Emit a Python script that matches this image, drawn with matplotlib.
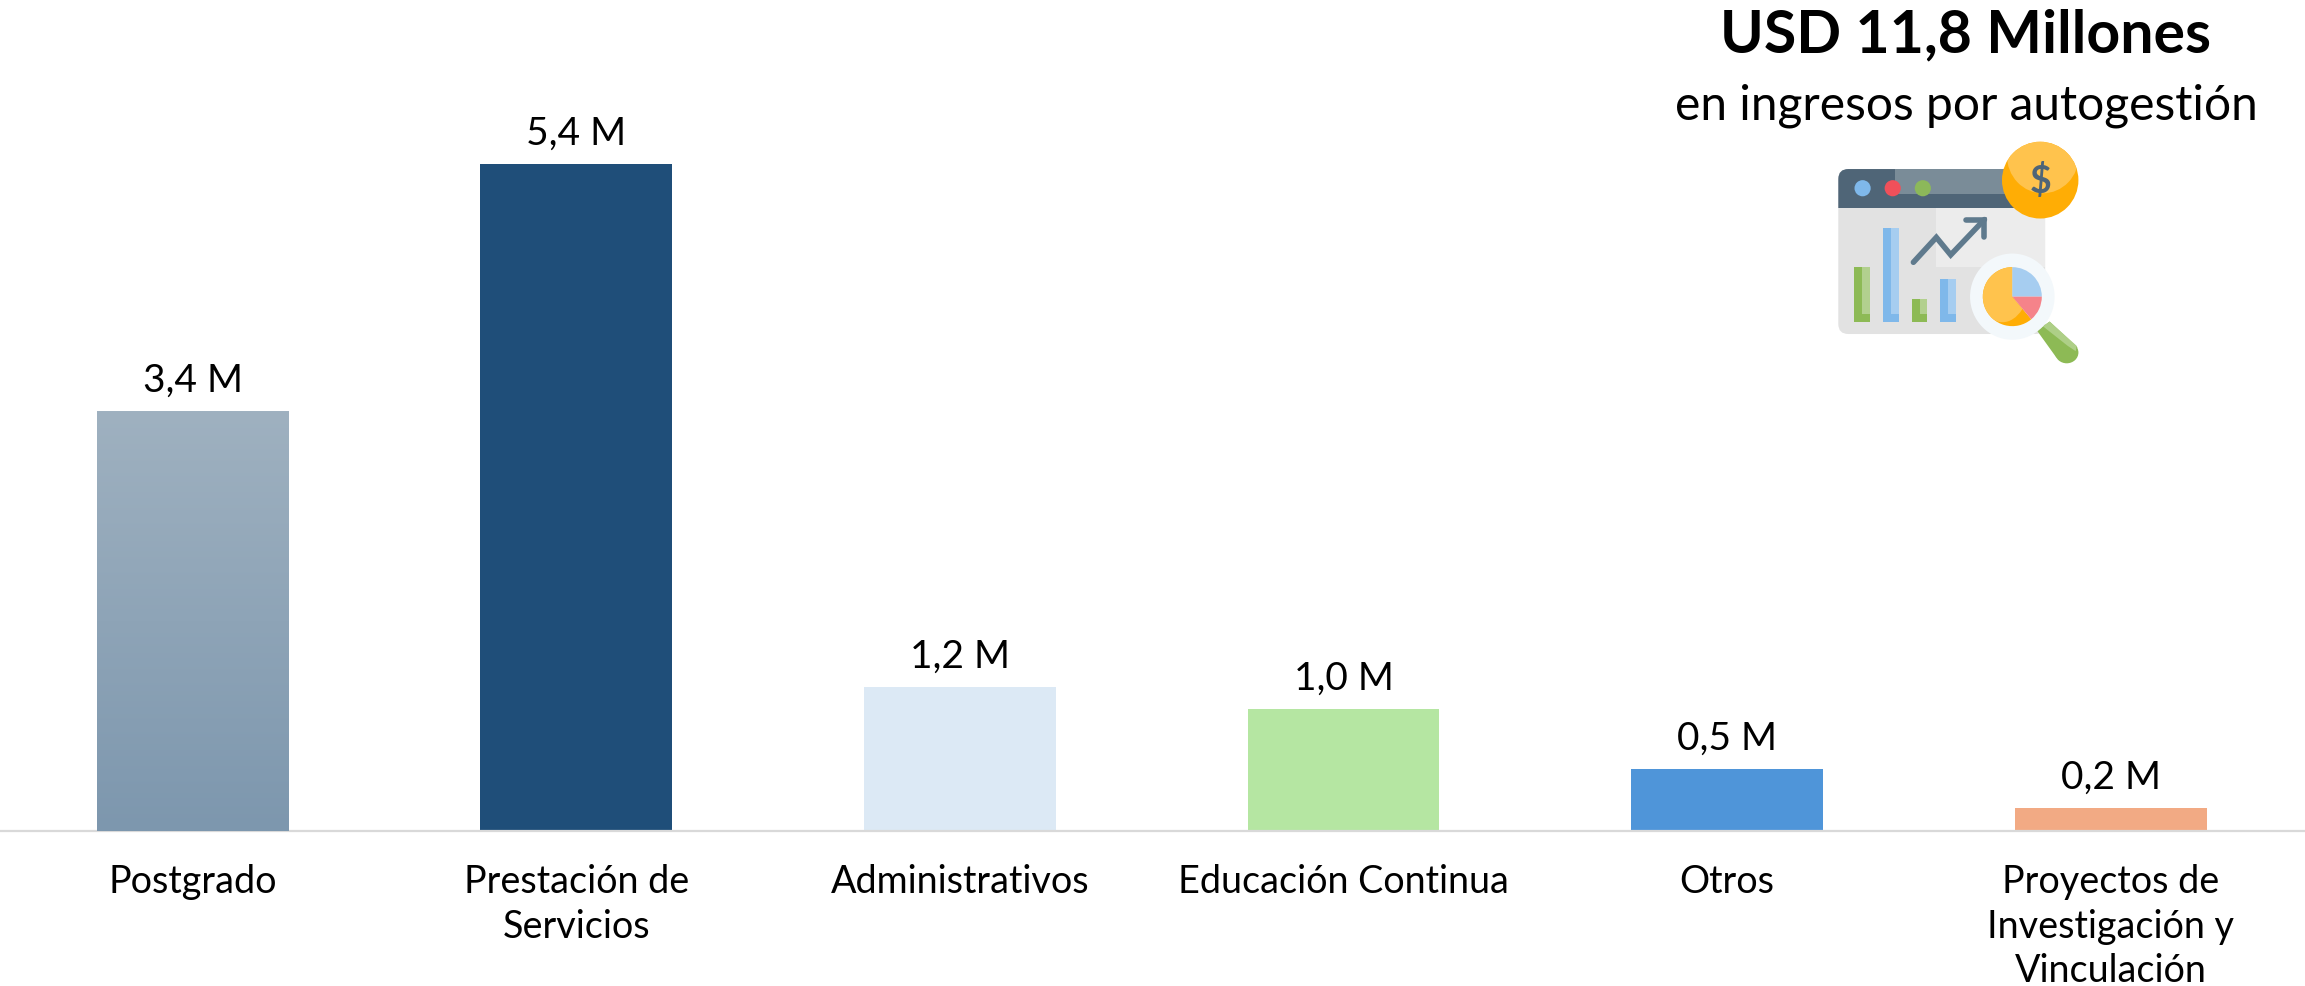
import matplotlib
matplotlib.use('Agg')
import matplotlib.pyplot as plt
import numpy as np
from matplotlib.colors import LinearSegmentedColormap
from matplotlib.patches import Ellipse, FancyBboxPatch, Polygon, Rectangle, Wedge

plt.rcParams['font.family'] = ['Lato', 'DejaVu Sans']

categories = ['Postgrado', 'Prestación de\nServicios', 'Administrativos',
              'Educación Continua', 'Otros', 'Proyectos de\nInvestigación y\nVinculación']
values = [3.4, 5.4, 1.17, 0.99, 0.5, 0.19]
value_labels = ['3,4 M', '5,4 M', '1,2 M', '1,0 M', '0,5 M', '0,2 M']
colors = ['#8FA5B8', '#1F4E79', '#DCE9F5', '#B5E6A2', '#4F95D9', '#F2AA84']

W, H = 2305, 987
BASE = 832
XLIM = (-0.5023, 5.5066)
YLIM = (0, 6.74)

fig = plt.figure(figsize=(W / 100, H / 100), dpi=100)
ax = fig.add_axes([0, (H - BASE) / H, 1, BASE / H])

x = np.arange(len(categories))
bars = ax.bar(x, values, width=0.5, color=colors, zorder=2)
ax.patch.set_alpha(0)

# primera barra con degradado
grad = LinearSegmentedColormap.from_list('g', ['#9FB1C0', '#7D97AE'])
b0 = bars[0]
img = ax.imshow(np.linspace(0, 1, 256).reshape(-1, 1), cmap=grad, aspect='auto', zorder=3,
                extent=(b0.get_x(), b0.get_x() + b0.get_width(), 0, b0.get_height()), origin='upper')
ax.set_xlim(*XLIM)
ax.set_ylim(*YLIM)

ax.bar_label(bars, labels=value_labels, padding=9.5, fontsize=28, color='black')

for s in ['top', 'left', 'right']:
    ax.spines[s].set_visible(False)
ax.spines['bottom'].set_color('#D9D9D9')
ax.spines['bottom'].set_linewidth(1.6)
ax.set_yticks([])
ax.set_xticks(x)
ax.set_xticklabels(categories, fontsize=27.2, color='black', linespacing=1.3)
ax.tick_params(axis='x', length=0, pad=23)

# capa en pixeles para el titulo y el icono
ov = fig.add_axes([0, 0, 1, 1], zorder=5)
ov.set_xlim(0, W)
ov.set_ylim(H, 0)
ov.axis('off')
ov.text(1966, 35, 'USD 11,8 Millones', fontsize=42.5, fontweight='bold', ha='center', va='center')
ov.text(1966, 106, 'en ingresos por autogestión', fontsize=34.5, ha='center', va='center')


def px(v):
    return 1600 + v / 2.224


def py(v):
    return v / 2.97


def box(x0, y0, x1, y1, c, z=6):
    p = Rectangle((px(x0), py(y0)), px(x1) - px(x0), py(y1) - py(y0), fc=c, ec='none', zorder=z)
    ov.add_patch(p)
    return p


def ell(cx, cy, rx, ry, c, z=6):
    p = Ellipse((px(cx), py(cy)), rx * 2 / 2.224, ry * 2 / 2.97, fc=c, ec='none', zorder=z)
    ov.add_patch(p)
    return p


# icono
ov.add_patch(FancyBboxPatch((px(530) + 10, py(505) + 10), px(990) - px(530) - 20, py(995) - py(505) - 20,
                            boxstyle='round,pad=10', fc='#E2E2E2', ec='none', zorder=6))
box(748, 622, 990, 795, '#ECECEC', 7)
head = FancyBboxPatch((px(530) + 10, py(505) + 10), px(950) - px(530) - 20, py(700) - py(505) - 20,
                      boxstyle='round,pad=10', fc='#4F6577', ec='none', zorder=8)
ov.add_patch(head)
head.set_clip_path(Rectangle((px(530), py(505)), px(950) - px(530), py(622) - py(505), transform=ov.transData))
box(655, 505, 925, 578, '#7A8C98', 9)
ell(584, 562, 18, 24, '#7FB8EA', 10)
ell(651, 562, 18, 24, '#F0505A', 10)
ell(718, 562, 18, 24, '#8CB85A', 10)

for x0, y0, c1, c2 in [(565, 797, '#8DBA55', '#B2D08E'), (629, 681, '#7FB8EA', '#A6CDF0'),
                       (693, 890, '#8DBA55', '#B2D08E'), (757, 832, '#7FB8EA', '#A6CDF0')]:
    box(x0, y0, x0 + 35, 960, c1, 8)
    box(x0 + 18, y0, x0 + 35, 935, c2, 9)

ov.plot([px(697), px(748), px(780), px(855)], [py(782), py(708), py(760), py(655)],
        color='#5F7A8D', lw=4, solid_capstyle='round', solid_joinstyle='miter', zorder=9)
ov.plot([px(815), px(855), px(855)], [py(655), py(655), py(708)],
        color='#5F7A8D', lw=4, solid_capstyle='round', solid_joinstyle='miter', zorder=9)

ell(979, 538, 85, 114, '#FFAD05', 11)
top = ell(985, 465, 80, 112, '#FFC34D', 12)
top.set_clip_path(Ellipse((px(979), py(538)), 170 / 2.224, 228 / 2.97, transform=ov.transData))
ov.text(px(979), py(538), '$', fontsize=27, fontweight='bold', color='#4F6577', ha='center', va='center', zorder=13)

# mango de la lupa
ov.add_patch(Polygon([(px(x_), py(y_)) for x_, y_ in
                      [(972, 985), (1000, 958), (1062, 1035), (1015, 1065)]],
                     fc='#8DBA55', ec='none', zorder=11))
ell(1038, 1050, 26, 32, '#8DBA55', 11)
ov.add_patch(Polygon([(px(x_), py(y_)) for x_, y_ in
                      [(985, 972), (1000, 958), (1060, 1030), (1058, 1046), (1040, 1030)]],
                     fc='#AECF87', ec='none', zorder=12))
ell(917, 884, 94, 128, '#F3F8FB', 13)
c = (px(917), py(884))
ov.add_patch(Wedge(c, 29.5, 50, 270, fc='#FFAD05', ec='none', zorder=14))
lite = ell(895, 830, 62, 130, '#FFC34D', 15)
lite.set_clip_path(Wedge(c, 29.5, 50, 270, transform=ov.transData))
ov.add_patch(Wedge(c, 29.5, 270, 360, fc='#A6CDF0', ec='none', zorder=16))
ov.add_patch(Wedge(c, 29.5, 0, 50, fc='#F5838A', ec='none', zorder=16))

fig.savefig('out.png', dpi=100, facecolor='white')
plt.close()
